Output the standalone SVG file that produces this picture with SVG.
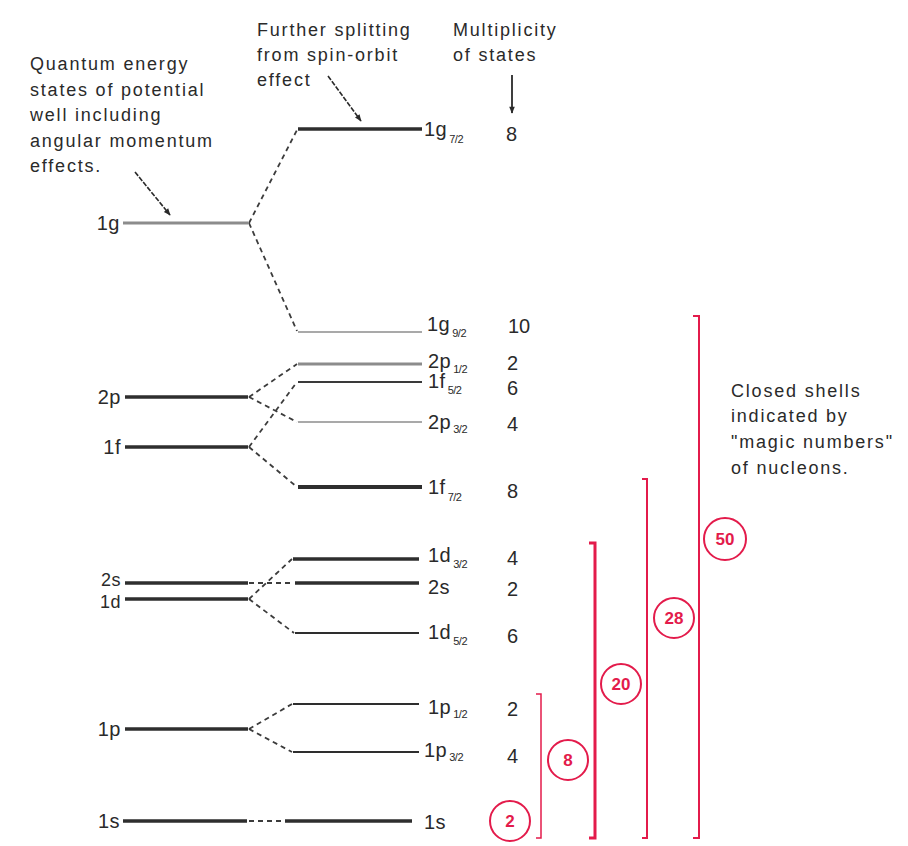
<svg xmlns="http://www.w3.org/2000/svg" width="908" height="846" viewBox="0 0 908 846">
  <defs>
    <marker id="arrow" viewBox="0 0 10 10" refX="9" refY="5" markerWidth="9" markerHeight="7" markerUnits="userSpaceOnUse" orient="auto">
      <path d="M0,1 L10,5 L0,9 Z" fill="#2a2a2a"/>
    </marker>
    <style>
      text { font-family: "Liberation Sans", Arial, sans-serif; fill: #2a2a2a; }
      .note { font-size: 18px; letter-spacing: 1.8px; }
      .lbl { font-size: 20px; letter-spacing: 0.5px; }
      .tight { font-size: 18px; }
      .sub { font-size: 11px; letter-spacing: -0.5px; }
      .mult { font-size: 20px; }
      .lvl { stroke: #2e2e2e; stroke-width: 3.5; fill: none; }
      .thin { stroke: #3a3a3a; stroke-width: 1.8; }
      .gray { stroke: #8c8c8c; stroke-width: 3; }
      .gthin { stroke: #8c8c8c; stroke-width: 1.5; }
      .dash { stroke: #3c3c3c; stroke-width: 1.8; stroke-dasharray: 5 4; fill: none; }
      .ptr { stroke: #2a2a2a; stroke-width: 1.6; stroke-dasharray: 5 1.5; fill: none; marker-end: url(#arrow); }
      .shell { stroke: #e31b4b; stroke-width: 2; fill: none; }
      .ring { stroke: #e31b4b; stroke-width: 2; fill: #fff; }
      .magic { font-size: 17px; font-weight: bold; fill: #e31b4b; text-anchor: middle; }
    </style>
  </defs>

  <rect width="908" height="846" fill="#ffffff"/>

  <!-- annotations -->
  <g id="note-potential">
    <text class="note" x="30" y="70">Quantum energy</text>
    <text class="note" x="30" y="95.5">states of potential</text>
    <text class="note" x="30" y="121">well including</text>
    <text class="note" x="30" y="146.5">angular momentum</text>
    <text class="note" x="30" y="172">effects.</text>
  </g>
  <g id="note-spin-orbit">
    <text class="note" x="257" y="36">Further splitting</text>
    <text class="note" x="257" y="61">from spin-orbit</text>
    <text class="note" x="257" y="86">effect</text>
  </g>
  <g id="note-multiplicity">
    <text class="note" x="453" y="36">Multiplicity</text>
    <text class="note" x="453" y="61">of states</text>
  </g>
  <g id="note-shells">
    <text class="note" x="731" y="397">Closed shells</text>
    <text class="note" x="731" y="422">indicated by</text>
    <text class="note" x="731" y="448">"magic numbers"</text>
    <text class="note" x="731" y="474">of nucleons.</text>
  </g>

  <!-- pointer arrows -->
  <g id="pointers">
    <line class="ptr" x1="135" y1="172" x2="170" y2="215"/>
    <line class="ptr" x1="328" y1="76" x2="361" y2="121"/>
    <line x1="512" y1="75" x2="512" y2="113" stroke="#2a2a2a" stroke-width="1.8" marker-end="url(#arrow)"/>
  </g>

  <!-- unsplit levels -->
  <g id="lvl-1g"><line class="lvl gray" x1="123" y1="223" x2="248" y2="223"/><text class="lbl" x="120" y="230" text-anchor="end">1g</text></g>
  <g id="lvl-2p"><line class="lvl" x1="125" y1="397" x2="248" y2="397"/><text class="lbl" x="121" y="404" text-anchor="end">2p</text></g>
  <g id="lvl-1f"><line class="lvl" x1="125" y1="447" x2="248" y2="447"/><text class="lbl" x="121" y="454" text-anchor="end">1f</text></g>
  <g id="lvl-2s"><line class="lvl" x1="125" y1="583" x2="248" y2="583"/><text class="lbl tight" x="121" y="586" text-anchor="end">2s</text></g>
  <g id="lvl-1d"><line class="lvl" x1="125" y1="599" x2="248" y2="599"/><text class="lbl tight" x="121" y="607.5" text-anchor="end">1d</text></g>
  <g id="lvl-1p"><line class="lvl" x1="125" y1="729" x2="248" y2="729"/><text class="lbl" x="121" y="736" text-anchor="end">1p</text></g>
  <g id="lvl-1s"><line class="lvl" x1="123" y1="821" x2="247" y2="821"/><text class="lbl" x="120" y="828" text-anchor="end">1s</text></g>

  <!-- spin-orbit split levels -->
  <g id="lvl-1g72"><line class="lvl" x1="298" y1="129" x2="422" y2="129"/><text class="lbl" x="424" y="136">1g<tspan class="sub" dx="2" dy="7">7/2</tspan></text><text class="mult" x="506" y="141">8</text></g>
  <g id="lvl-1g92"><line class="lvl gthin" x1="298" y1="332" x2="422" y2="332"/><text class="lbl" x="427" y="331">1g<tspan class="sub" dx="2" dy="6">9/2</tspan></text><text class="mult" x="508" y="333">10</text></g>
  <g id="lvl-2p12"><line class="lvl gray" x1="298" y1="364" x2="422" y2="364"/><text class="lbl" x="428" y="368">2p<tspan class="sub" dx="2" dy="5">1/2</tspan></text><text class="mult" x="507" y="370">2</text></g>
  <g id="lvl-1f52"><line class="lvl thin" x1="298" y1="382" x2="422" y2="382"/><text class="lbl" x="428" y="388">1f<tspan class="sub" dx="2" dy="6">5/2</tspan></text><text class="mult" x="507" y="395">6</text></g>
  <g id="lvl-2p32"><line class="lvl gthin" x1="298" y1="422" x2="422" y2="422"/><text class="lbl" x="428" y="429">2p<tspan class="sub" dx="2" dy="4">3/2</tspan></text><text class="mult" x="507" y="431">4</text></g>
  <g id="lvl-1f72"><line class="lvl" style="stroke-width:4" x1="298" y1="487" x2="422" y2="487"/><text class="lbl" x="428" y="494">1f<tspan class="sub" dx="2" dy="7">7/2</tspan></text><text class="mult" x="507" y="498">8</text></g>
  <g id="lvl-1d32"><line class="lvl" x1="293" y1="559" x2="419" y2="559"/><text class="lbl" x="428" y="562">1d<tspan class="sub" dx="2" dy="6">3/2</tspan></text><text class="mult" x="507" y="565">4</text></g>
  <g id="lvl-2s12"><line class="lvl" x1="295" y1="583" x2="419" y2="583"/><text class="lbl" x="428" y="594">2s</text><text class="mult" x="507" y="596">2</text></g>
  <g id="lvl-1d52"><line class="lvl" style="stroke-width:2" x1="295" y1="633" x2="419" y2="633"/><text class="lbl" x="428" y="639">1d<tspan class="sub" dx="2" dy="6">5/2</tspan></text><text class="mult" x="507" y="643">6</text></g>
  <g id="lvl-1p12"><line class="lvl" style="stroke-width:2" x1="293" y1="704" x2="419" y2="704"/><text class="lbl" x="428" y="714">1p<tspan class="sub" dx="2" dy="4">1/2</tspan></text><text class="mult" x="507" y="716">2</text></g>
  <g id="lvl-1p32"><line class="lvl" style="stroke-width:2" x1="293" y1="752" x2="419" y2="752"/><text class="lbl" x="424" y="757">1p<tspan class="sub" dx="2" dy="4">3/2</tspan></text><text class="mult" x="507" y="763">4</text></g>
  <g id="lvl-1s12"><line class="lvl" x1="285" y1="821" x2="412" y2="821"/><text class="lbl" x="424" y="829">1s</text></g>

  <!-- splitting connectors -->
  <g id="connectors">
    <path class="dash" d="M249,223 L297,130"/>
    <path class="dash" d="M249,223 L297,331"/>
    <path class="dash" d="M249,397 L297,364"/>
    <path class="dash" d="M249,397 L297,422"/>
    <path class="dash" d="M249,447 L297,382"/>
    <path class="dash" d="M249,447 L297,487"/>
    <path class="dash" d="M249,583 L294,583"/>
    <path class="dash" d="M249,599 L292,559"/>
    <path class="dash" d="M249,599 L294,633"/>
    <path class="dash" d="M249,729 L292,704"/>
    <path class="dash" d="M249,729 L292,752"/>
    <path class="dash" d="M249,821 L284,821"/>
  </g>

  <!-- closed shell brackets -->
  <g id="shell-8"><path class="shell" style="stroke-width:1.5" d="M536,694 L541,694 L541,838 L536,838"/><circle class="ring" cx="568" cy="760" r="20"/><text class="magic" x="568" y="766">8</text></g>
  <g id="shell-20"><path class="shell" style="stroke-width:3" d="M589,543 L595,543 L595,838 L589,838"/><circle class="ring" cx="621" cy="684" r="20"/><text class="magic" x="621" y="690">20</text></g>
  <g id="shell-28"><path class="shell" d="M642,479 L647,479 L647,838 L642,838"/><circle class="ring" cx="674" cy="618" r="20"/><text class="magic" x="674" y="624">28</text></g>
  <g id="shell-50"><path class="shell" d="M693,316 L699,316 L699,838 L693,838"/><circle class="ring" cx="725" cy="539" r="21"/><text class="magic" x="725" y="545">50</text></g>
  <g id="shell-2"><circle class="ring" cx="510" cy="821" r="20"/><text class="magic" x="510" y="827">2</text></g>
</svg>
